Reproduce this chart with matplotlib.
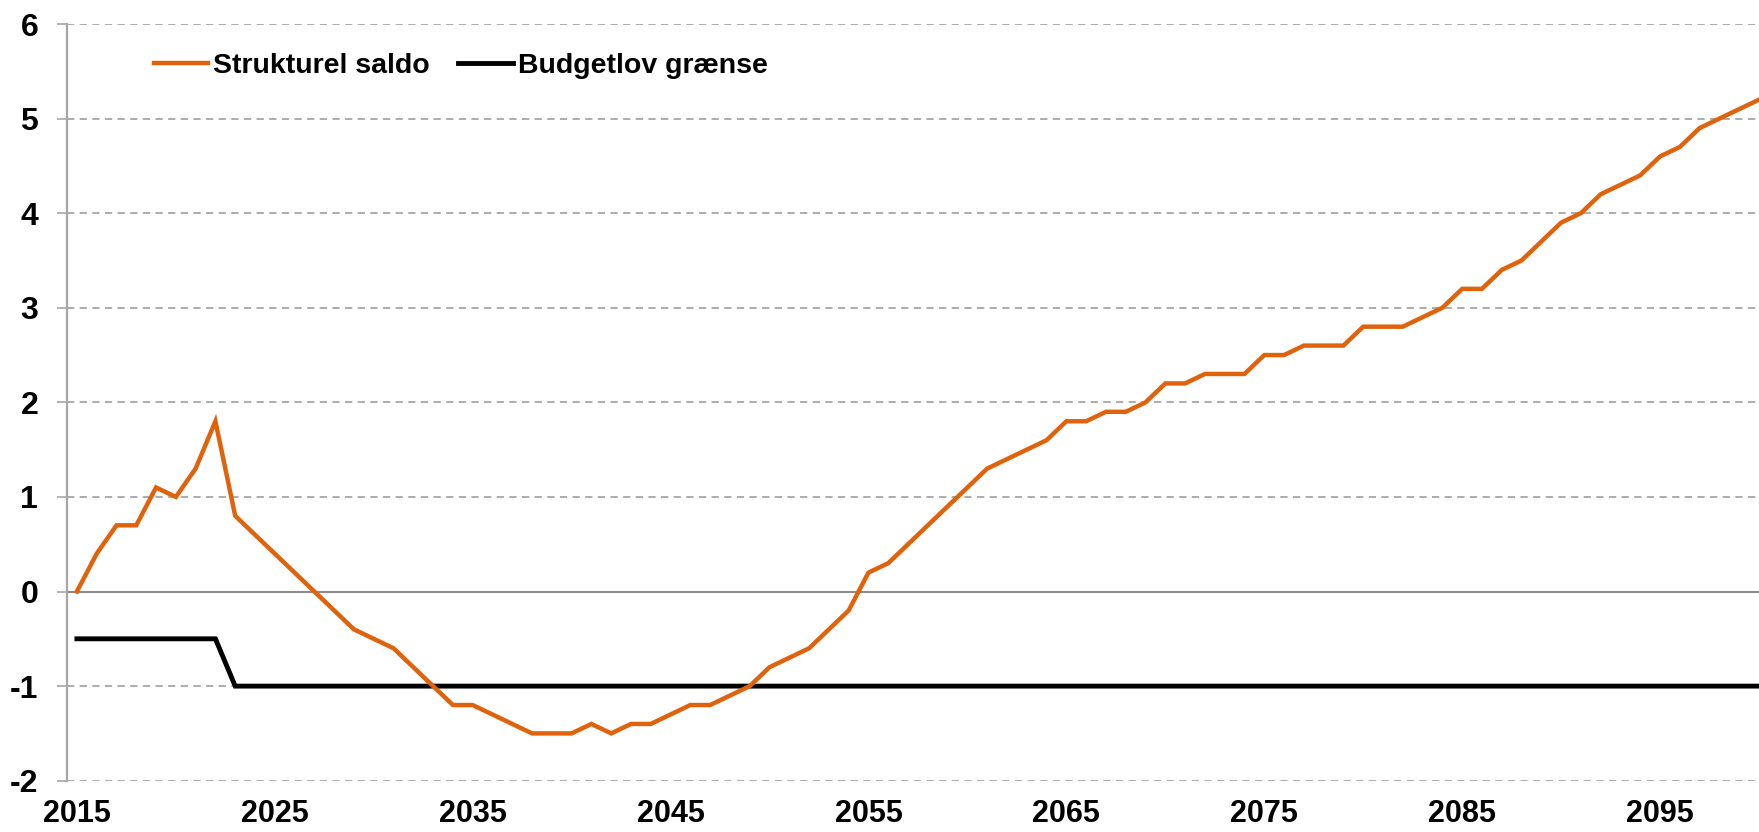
import matplotlib
matplotlib.use("Agg")
import matplotlib.pyplot as plt

plt.rcParams['font.family'] = ['Liberation Sans', 'DejaVu Sans']

years = list(range(2015, 2101))
strukturel_saldo = [
    0.0, 0.4, 0.7, 0.7, 1.1, 1.0, 1.3, 1.8, 0.8, 0.6,   # 2015-2024
    0.4, 0.2, 0.0, -0.2, -0.4, -0.5, -0.6, -0.8, -1.0, -1.2,  # 2025-2034
    -1.2, -1.3, -1.4, -1.5, -1.5, -1.5, -1.4, -1.5, -1.4, -1.4,  # 2035-2044
    -1.3, -1.2, -1.2, -1.1, -1.0, -0.8, -0.7, -0.6, -0.4, -0.2,  # 2045-2054
    0.2, 0.3, 0.5, 0.7, 0.9, 1.1, 1.3, 1.4, 1.5, 1.6,   # 2055-2064
    1.8, 1.8, 1.9, 1.9, 2.0, 2.2, 2.2, 2.3, 2.3, 2.3,   # 2065-2074
    2.5, 2.5, 2.6, 2.6, 2.6, 2.8, 2.8, 2.8, 2.9, 3.0,   # 2075-2084
    3.2, 3.2, 3.4, 3.5, 3.7, 3.9, 4.0, 4.2, 4.3, 4.4,   # 2085-2094
    4.6, 4.7, 4.9, 5.0, 5.1, 5.2,                       # 2095-2100
]
budgetlov_graense = [-0.5] * 8 + [-1.0] * 78

x_tick_labels = [str(y) for y in range(2015, 2100, 10)]
y_ticks = [-2, -1, 0, 1, 2, 3, 4, 5, 6]

fig = plt.figure(figsize=(17.59, 8.32), dpi=100)
ax = fig.add_axes([67/1759, (832-780.7)/832, 1 - 67/1759, (780.7-24)/832])

for v in y_ticks:
    if v == 0:
        ax.axhline(v, color='#8c8c8c', lw=1.5, zorder=1)
    else:
        ax.axhline(v, color='#a6a6a6', lw=1.3, dashes=(4, 3), zorder=1)

ax.plot(years, strukturel_saldo, color='#E0620B', lw=3.2, label='Strukturel saldo',
        solid_joinstyle='miter', zorder=3)
ax.plot(years, budgetlov_graense, color='black', lw=3.5, label='Budgetlov grænse',
        solid_joinstyle='miter', zorder=2)

ax.set_xlim(2014.5, 2100.0)
ax.set_ylim(-2, 6)

for side in ['top', 'right', 'bottom']:
    ax.spines[side].set_visible(False)
ax.spines['left'].set_color('#a6a6a6')
ax.spines['left'].set_linewidth(1.6)

ax.set_yticks(y_ticks)
ax.set_yticklabels([str(v) for v in y_ticks], fontsize=23, fontweight='bold')
ax.tick_params(axis='y', direction='out', length=7.2, width=1.2, color='#a6a6a6', pad=13.5)

ax.set_xticks(list(range(2015, 2100, 10)))
ax.set_xticklabels(x_tick_labels, fontsize=22, fontweight='bold')
ax.tick_params(axis='x', length=0, pad=13.5)

leg = fig.legend(loc='center left', bbox_to_anchor=(154/1759, 1 - 66/832), ncol=2,
                 frameon=False, prop={'size': 20.5, 'weight': 'bold'},
                 handlelength=1.9, handletextpad=0.18, columnspacing=1.0,
                 borderpad=0, borderaxespad=0)

fig.savefig('out.png', dpi=100)
